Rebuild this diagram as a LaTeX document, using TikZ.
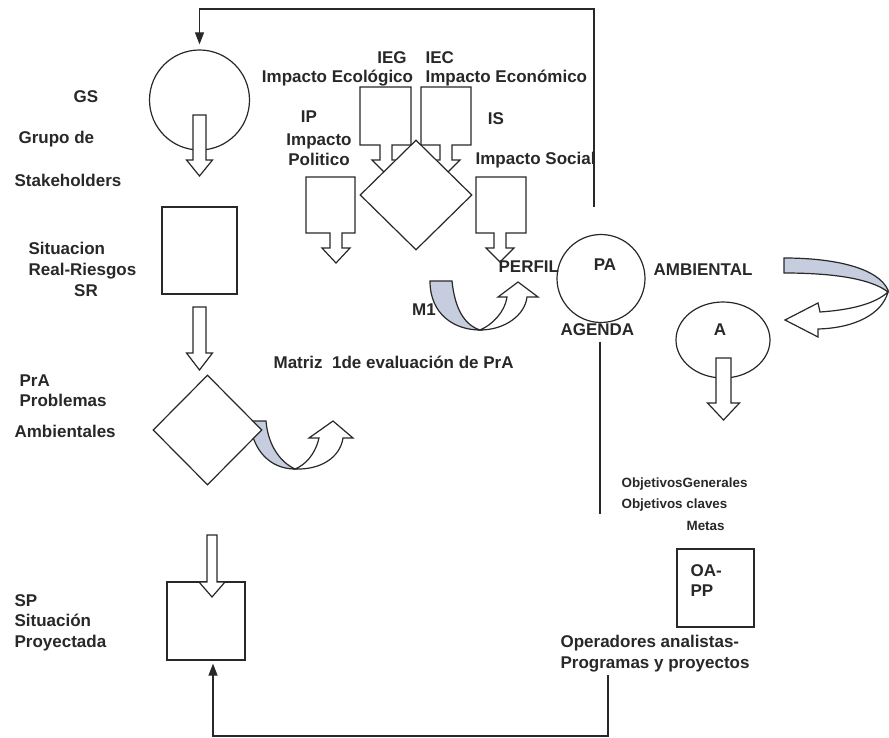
\documentclass[tikz,border=0pt]{standalone}
\usepackage{fontspec}
\setmainfont{Liberation Sans}
\usetikzlibrary{shapes.geometric,arrows.meta}

\definecolor{ink}{RGB}{40,40,40}
\definecolor{bandblue}{RGB}{197,205,222}

\tikzstyle{ring}=[circle,draw,fill=white,inner sep=0pt]
\tikzstyle{oval}=[ellipse,draw,fill=white,inner sep=0pt]
\tikzstyle{box}=[rectangle,draw,fill=white,inner sep=0pt]
\tikzstyle{rhomb}=[diamond,draw,fill=white,inner sep=0pt,aspect=1]
\tikzstyle{blockarrow}=[draw,fill=white,line join=miter]
\tikzstyle{band}=[draw,fill=bandblue]
\tikzstyle{link}=[draw,-{Triangle[length=12pt,width=9pt]}]
\tikzstyle{lbl}=[inner sep=0pt,align=left]
\tikzstyle{smalllbl}=[inner sep=0pt,font=\bfseries\fontsize{13.4}{16}\selectfont]

% straight block arrow: x, top, neck, tip, shaft half width, head half width
\newcommand{\blockarrow}[6]{%
  \path[blockarrow] ({#1-#5},#2) -- ({#1+#5},#2) -- ({#1+#5},#3) -- ({#1+#6},#3)
    -- (#1,#4) -- ({#1-#6},#3) -- ({#1-#5},#3) -- cycle;}
% box with arrow below: left, right, top, bottom of box, x of shaft, neck, tip
\newcommand{\impactarrow}[7]{%
  \path[blockarrow] (#1,#3) -- (#2,#3) -- (#2,#4) -- ({#5+6},#4) -- ({#5+6},#6)
    -- ({#5+14},#6) -- (#5,#7) -- ({#5-14},#6) -- ({#5-6},#6) -- ({#5-6},#4)
    -- (#1,#4) -- cycle;}

\begin{document}
\begin{tikzpicture}[x=1pt,y=-1pt,line width=1.2pt,color=ink,
    font=\bfseries\fontsize{17}{20.5}\selectfont]
  \useasboundingbox (0,0) rectangle (889,738);

  % impacts feeding the matrix
  \impactarrow{360}{411}{87}{145}{386}{160}{174}
  \impactarrow{421}{471}{87}{145}{446}{160}{174}
  \impactarrow{306}{355}{177}{233}{336}{248}{263}
  \impactarrow{476}{526}{177}{233}{500}{248}{262}
  \node[rhomb,minimum width=112pt,minimum height=110pt] (imp) at (416,195) {};

  % curved arrow out of the problems
  \path[band] (250,421) -- (266,421) .. controls (268,445) and (280,462) .. (295,469)
    .. controls (270,469) and (252,450) .. (250,421) -- cycle;

  % main stages
  \node[ring,minimum size=100pt] (gs) at (199.5,100) {};
  \node[box,minimum width=75pt,minimum height=87pt] (sr) at (199.5,250.5) {};
  \node[rhomb,minimum width=109pt,minimum height=110pt] (pra) at (207.5,430) {};
  \node[box,minimum width=78pt,minimum height=78pt] (sp) at (206,621) {};
  \node[ring,minimum size=88pt] (pa) at (601,278.5) {};
  \node[oval,minimum width=94pt,minimum height=76pt] (a) at (723,340) {};
  \node[box,minimum width=77pt,minimum height=78pt] (oapp) at (715.5,588) {};

  \path[blockarrow] (295,469) .. controls (320,470) and (340,458) .. (343,438)
    -- (353,438) -- (333,421) -- (309,438) -- (319,438)
    .. controls (315,455) and (305,465) .. (295,469) -- cycle;

  % M1 towards the profile
  \path[band] (430,281) -- (452,281) .. controls (455,310) and (465,325) .. (480,330)
    .. controls (455,330) and (430,315) .. (430,281) -- cycle;
  \path[blockarrow] (480,330) .. controls (505,330) and (525,315) .. (527,297)
    -- (538,297) -- (518,282) -- (498,297) -- (507,297)
    .. controls (505,312) and (492,325) .. (480,330) -- cycle;

  % back from AMBIENTAL to A
  \path[band] (784,258) .. controls (835,258) and (878,268) .. (888,290) -- (888,292)
    .. controls (870,278) and (830,273) .. (784,273) -- cycle;
  \path[blockarrow] (888,292) .. controls (875,304) and (850,310) .. (820,312)
    -- (818,303) -- (785,320) -- (818,337) -- (818,329)
    .. controls (855,328) and (882,314) .. (888,292) -- cycle;

  % downward arrows
  \blockarrow{199.5}{115}{160}{176}{6.5}{13}
  \blockarrow{199.5}{307}{353}{370}{6.5}{13}
  \blockarrow{212}{535}{582}{597}{5}{13}
  \blockarrow{723.5}{358}{403}{420}{7.5}{16}

  % labels
  \node[lbl] (gslbl) at (86,97) {GS};
  \node[lbl,anchor=west] (grupo) at (18,139) {Grupo de};
  \node[lbl,anchor=west] (stake) at (14,180) {Stakeholders};
  \node[lbl,anchor=west] (srlbl) at (28,260.5) {Situacion\\Real-Riesgos};
  \node[lbl] (srname) at (86,291) {SR};
  \node[lbl,anchor=west] (pralbl) at (19,390.5) {PrA\\Problemas};
  \node[lbl,anchor=west] (amblbl) at (14,431) {Ambientales};
  \node[lbl,anchor=west] (splbl) at (14,622.5) {SP\\Situación\\Proyectada};
  \node[lbl] (iplbl) at (309,117) {IP};
  \node[lbl,align=center] (ipname) at (319,149.5) {Impacto\\Politico};
  \node[lbl] (ieglbl) at (392,58) {IEG};
  \node[lbl] (iegname) at (337.5,78) {Impacto Ecológico};
  \node[lbl,anchor=west] (ieclbl) at (425,58) {IEC};
  \node[lbl,anchor=west] (iecname) at (425,78) {Impacto Económico};
  \node[lbl] (islbl) at (496,119) {IS};
  \node[lbl,anchor=west] (isname) at (475,160) {Impacto Social};
  \node[lbl,anchor=west] (perfil) at (498,267) {PERFIL};
  \node[lbl] (palbl) at (605,265) {PA};
  \node[lbl,anchor=west] (ambiental) at (653,270) {AMBIENTAL};
  \node[lbl,anchor=west] (agenda) at (560,330) {AGENDA};
  \node[lbl] (alb) at (720,330) {A};
  \node[lbl] (m1) at (424,310) {M1};
  \node[lbl,anchor=west] (matriz) at (273,362) {Matriz\ \ 1de evaluación de PrA};
  \node[smalllbl,anchor=west] (objgen) at (621,484) {ObjetivosGenerales};
  \node[smalllbl,anchor=west] (objcla) at (621,505) {Objetivos claves};
  \node[smalllbl,anchor=west] (metas) at (686,526) {Metas};
  \node[lbl,anchor=west] (oalbl) at (690,580.5) {OA-\\PP};
  \node[lbl,anchor=west] (oper) at (560,653.5) {Operadores analistas-\\Programas y proyectos};

  % feedback lines
  \coordinate (fbstart) at (594,207);
  \coordinate (fbcorner) at (199.5,9);
  \path[link,shorten >=5pt] (fbstart) |- (fbcorner) -- (gs.north);
  \coordinate (agendaend) at (600,514);
  \path[draw] (agendaend |- agenda.south) ++(0,5) -- (agendaend);
  \coordinate (opstart) at (608,675);
  \coordinate (opcorner) at (213,736);
  \path[link,shorten >=3pt] (opstart) |- (opcorner) -- (opcorner |- sp.south);
\end{tikzpicture}
\end{document}
